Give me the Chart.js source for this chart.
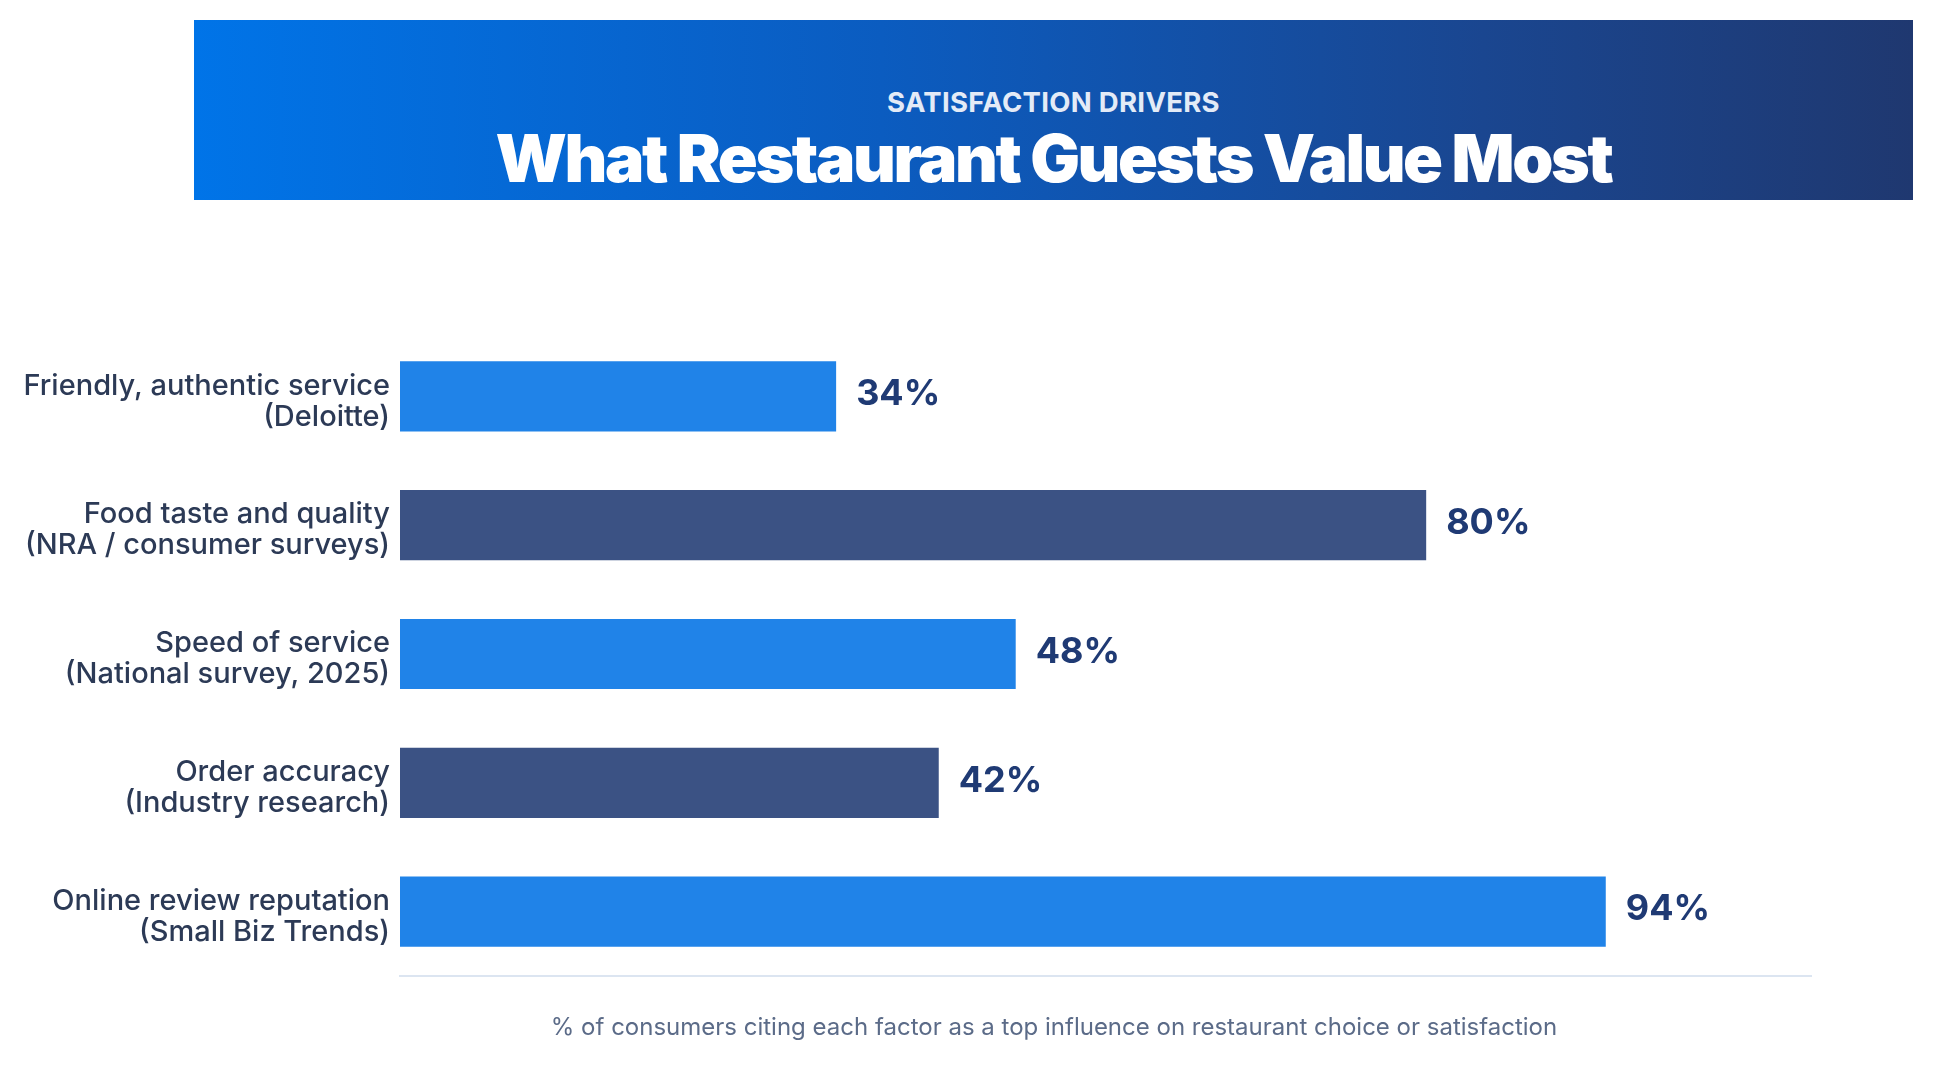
<!DOCTYPE html>
<html>
<head>
<meta charset="utf-8">
<script src="https://cdn.jsdelivr.net/npm/chart.js@4"></script>
<style>
  html, body { margin: 0; padding: 0; background: #fff; }
  body { width: 1933px; height: 1080px; position: relative; overflow: hidden; font-family: Inter, "Noto Sans", sans-serif; }
  #banner {
    position: absolute; left: 194px; top: 20px; width: 1719px; height: 180px;
    background: linear-gradient(90deg, #0074e8 0%, #0b5cc0 40%, #1a4690 75%, #1f3870 100%);
    text-align: center; color: #fff;
  }
  #kicker { position: absolute; left: 0; right: 0; top: 65px; font-size: 27.5px; font-weight: 700; color: #e3ebf7; letter-spacing: 0.3px; }
  #title { position: absolute; left: 0; right: 0; top: 98px; font-size: 66px; font-weight: 900; letter-spacing: -2.4px; line-height: 80px; }
  #note { position: absolute; left: 0; width: 2108px; top: 1012px; text-align: center; font-size: 24px; color: #5b6b88; }
  #wrap { position: absolute; left: 0; top: 0; width: 1933px; height: 1080px; }
</style>
</head>
<body>
<div id="wrap"><canvas id="chart" width="1933" height="1080"></canvas></div>
<div id="banner">
  <div id="kicker">SATISFACTION DRIVERS</div>
  <div id="title">What Restaurant Guests Value Most</div>
</div>
<div id="note">% of consumers citing each factor as a top influence on restaurant choice or satisfaction</div>
<script>
// categories and values
let factors = [
    ['Friendly, authentic service', '(Deloitte)'],
    ['Food taste and quality', '(NRA / consumer surveys)'],
    ['Speed of service', '(National survey, 2025)'],
    ['Order accuracy', '(Industry research)'],
    ['Online review reputation', '(Small Biz Trends)']
];
let shares = [34, 80, 48, 42, 94];
let barColors = ['#2083e8', '#3b5284', '#2083e8', '#3b5284', '#2083e8'];

// puts "NN%" right of each bar
const valueLabels = {
    id: 'valueLabels',
    afterDatasetsDraw(chart) {
        const ctx = chart.ctx;
        const meta = chart.getDatasetMeta(0);
        ctx.save();
        ctx.font = '700 36px Inter';
        ctx.fillStyle = '#1f3a74';
        ctx.textAlign = 'left';
        ctx.textBaseline = 'middle';
        meta.data.forEach((bar, i) => {
            ctx.fillText(shares[i] + '%', bar.x + 20, bar.y - 2);
        });
        ctx.restore();
    }
};

let ctx = document.getElementById('chart').getContext('2d');
let chart = new Chart(ctx, {
    type: 'bar',
    data: {
        labels: factors,
        datasets: [{
            data: shares,
            backgroundColor: barColors,
            categoryPercentage: 0.545,
            barPercentage: 1
        }]
    },
    options: {
        indexAxis: 'y',
        responsive: false,
        animation: false,
        layout: { padding: { top: 332, right: 122, left: 0, bottom: 0 } },
        plugins: {
            legend: { display: false },
            tooltip: { enabled: false }
        },
        scales: {
            x: {
                min: 0,
                max: 110,
                grid: { display: false },
                ticks: { display: false },
                border: { display: true, color: '#dce5f1', width: 2 },
                afterFit: s => { s.height = 104; }
            },
            y: {
                grid: { display: false },
                border: { display: false },
                ticks: {
                    color: '#2c3a56',
                    padding: 2,
                    labelOffset: 5,
                    font: { family: 'Inter', size: 29, weight: 500, lineHeight: 1.07 }
                },
                afterFit: s => { s.width = 400; }
            }
        }
    },
    plugins: [valueLabels]
});
</script>
</body>
</html>
